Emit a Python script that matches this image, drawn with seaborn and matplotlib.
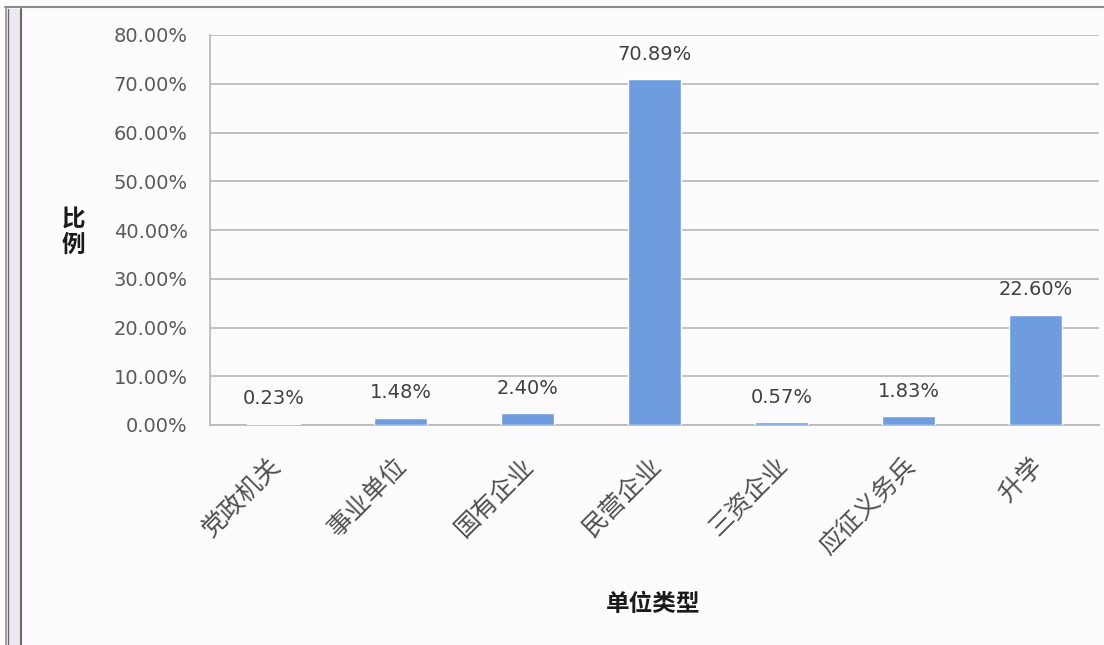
import matplotlib
matplotlib.use("Agg")
import matplotlib.pyplot as plt
import matplotlib.transforms as mtransforms
from matplotlib.lines import Line2D
from matplotlib.patches import Rectangle
from matplotlib.ticker import MultipleLocator, FuncFormatter
import seaborn as sns
import pandas as pd

# ---- data ----
categories = ["党政机关", "事业单位", "国有企业", "民营企业", "三资企业", "应征义务兵", "升学"]
values = [0.23, 1.48, 2.40, 70.89, 0.57, 1.83, 22.60]
x_title = "单位类型"
y_title = "比\n例"

sns.set_theme(style="white")
cjk = ["Noto Sans CJK SC", "DejaVu Sans"]
plt.rcParams["font.family"] = ["DejaVu Sans", "Noto Sans CJK SC"]

W, H = 1104, 645
bg = "#FDFBFE"
fig = plt.figure(figsize=(W / 100, H / 100), dpi=100, facecolor=bg)
ax = fig.add_axes([210 / W, 1 - 425 / H, 889 / W, 390 / H])
ax.set_facecolor(bg)

df = pd.DataFrame({"cat": categories, "val": values})
sns.barplot(data=df, x="cat", y="val", color="#6E9CDF", saturation=1,
            width=0.41, ax=ax, zorder=3)

ax.set_ylim(0, 80)
ax.set_xlim(-0.5, len(categories) - 0.5)
ax.yaxis.set_major_locator(MultipleLocator(10))
ax.yaxis.set_major_formatter(FuncFormatter(lambda v, p: f"{v:.2f}%"))
ax.grid(axis="y", color="#BBBBBB", linewidth=1.3, zorder=0)
ax.grid(axis="x", visible=False)
for s in ["top", "right"]:
    ax.spines[s].set_visible(False)
for s in ["left", "bottom"]:
    ax.spines[s].set_color("#BBBBBB")
    ax.spines[s].set_linewidth(1.3)

ax.tick_params(axis="y", length=0, pad=16, labelsize=14, labelcolor="#595959")
ax.tick_params(axis="x", length=0, pad=0)
ax.set_xticks(range(len(categories)))
ax.set_xticklabels(categories)
offset = mtransforms.ScaledTranslation(0.03, -0.37, fig.dpi_scale_trans)
for lab in ax.get_xticklabels():
    lab.set_rotation(45)
    lab.set_rotation_mode("anchor")
    lab.set_ha("right")
    lab.set_va("center")
    lab.set_fontsize(18)
    lab.set_family(cjk)
    lab.set_color("#505050")
    lab.set_transform(lab.get_transform() + offset)

for i, v in enumerate(values):
    ax.annotate(f"{v:.2f}%", xy=(i, v), xytext=(0, 18), textcoords="offset points",
                ha="center", va="center", fontsize=14, color="#404040", zorder=5)

ax.set_xlabel(x_title, fontsize=17, fontweight="bold", family=cjk, color="#1a1a1a")
ax.xaxis.set_label_coords(0.498, -0.459)
ax.xaxis.label.set_va("center")
ax.set_ylabel(y_title, rotation=0, fontsize=17, fontweight="bold", family=cjk,
              color="#1a1a1a", linespacing=1.1)
ax.yaxis.set_label_coords(-0.154, 0.495)
ax.yaxis.label.set_va("center")
ax.yaxis.label.set_ha("center")

# window frame
fig.add_artist(Rectangle((8 / W, 0), 12 / W, 1 - 9 / H, transform=fig.transFigure,
                         facecolor="#EEE8F2", edgecolor="none"))
fig.add_artist(Line2D([5 / W, 1], [1 - 7 / H, 1 - 7 / H], transform=fig.transFigure,
                      color="#8C8C8C", linewidth=1.5))
fig.add_artist(Line2D([6 / W, 6 / W], [0, 1 - 7 / H], transform=fig.transFigure,
                      color="#8C8C8C", linewidth=1.2))
fig.add_artist(Line2D([8 / W, 8 / W], [0, 1 - 9 / H], transform=fig.transFigure,
                      color="#6a6a6a", linewidth=1.0))
fig.add_artist(Line2D([21 / W, 21 / W], [0, 1 - 9 / H], transform=fig.transFigure,
                      color="#6a6a6a", linewidth=1.5))

fig.savefig("out.png", dpi=100, facecolor=bg)
